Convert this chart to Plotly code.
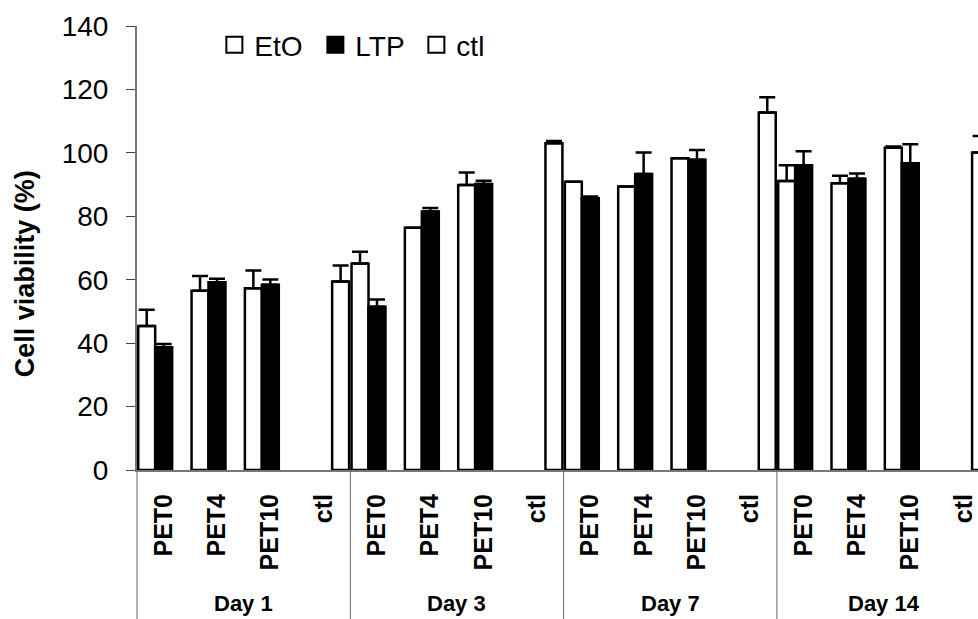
import plotly.graph_objects as go

# Cell viability of PET films (EtO vs LTP sterilisation) with controls, per day
days = ["Day 1", "Day 3", "Day 7", "Day 14"]
samples = ["PET0", "PET4", "PET10", "ctl"]

# mean viability (%) per day for PET0, PET4, PET10
eto_mean = [[45.4, 56.5, 57.3], [65.1, 76.4, 89.9], [90.9, 89.4, 98.3], [91.1, 90.4, 101.6]]
ltp_mean = [[38.7, 59.2, 58.4], [51.5, 81.5, 90.2], [85.7, 93.3, 97.8], [96.1, 91.8, 96.7]]
ctl_mean = [59.4, 103.0, 112.7, 100.1]

# upper standard deviation (None = not shown)
eto_err = [[5.1, 4.7, 5.6], [3.7, None, 3.9], [None, None, None], [5.0, 2.4, 0.4]]
ltp_err = [[1.0, 1.1, 1.7], [2.3, 1.1, 1.0], [0.5, 6.8, 3.1], [4.4, 1.7, 6.0]]
ctl_err = [5.1, 0.7, 4.8, 5.2]

# one category per (day, sample); ctl bars sit in the third slot of each group
keys, labels = [], []
eto_y, ltp_y, ctl_y = [], [], []
eto_e, ltp_e, ctl_e = [], [], []
for d, day in enumerate(days):
    for s, smp in enumerate(samples):
        keys.append(f"{day} {smp}")
        labels.append(smp)
        if smp == "ctl":
            eto_y.append(None); ltp_y.append(None); ctl_y.append(ctl_mean[d])
            eto_e.append(None); ltp_e.append(None); ctl_e.append(ctl_err[d])
        else:
            eto_y.append(eto_mean[d][s]); ltp_y.append(ltp_mean[d][s]); ctl_y.append(None)
            eto_e.append(eto_err[d][s]); ltp_e.append(ltp_err[d][s]); ctl_e.append(None)

FONT = "Liberation Sans, Arial, sans-serif"


def err(vals):
    # upper error bars only
    return dict(type="data", symmetric=False, array=vals,
                arrayminus=[0 if v is not None else None for v in vals],
                color="black", thickness=2.5, width=8)


series = [("EtO", eto_y, eto_e, "white"), ("LTP", ltp_y, ltp_e, "black"), ("ctl", ctl_y, ctl_e, "white")]

fig = go.Figure()
for name, ys, es, fill in series:
    fig.add_trace(go.Bar(name=name, x=keys, y=ys, error_y=err(es), legendgroup=name,
                         showlegend=False,
                         marker=dict(color=fill, line=dict(color="black", width=2.5))))
# legend entries with larger square swatches
for name, ys, es, fill in series:
    fig.add_trace(go.Scatter(name=name, x=[None], y=[None], mode="markers", legendgroup=name,
                             marker=dict(symbol="square", size=16, color=fill,
                                         line=dict(color="black", width=2))))

# vertical separators between day groups, running down through the labels
shapes = [dict(type="line", xref="paper", yref="paper", x0=0, x1=0, y0=0, y1=-0.34,
               line=dict(color="#666", width=1))]
for d in range(1, len(days)):
    xv = d * len(samples) - 0.5
    shapes.append(dict(type="line", xref="x", yref="paper", x0=xv, x1=xv, y0=0, y1=-0.34,
                       line=dict(color="#666", width=1)))

annotations = []
for d, day in enumerate(days):
    annotations.append(dict(text=f"<b>{day}</b>", xref="x", yref="paper",
                            x=d * len(samples) + 1.5, y=-0.30, showarrow=False,
                            xanchor="center", yanchor="middle",
                            font=dict(family=FONT, size=22, color="black")))
annotations.append(dict(text="<b>Cell viability (%)</b>", xref="paper", yref="paper",
                        x=-0.133, y=0.441, textangle=-90, showarrow=False,
                        xanchor="center", yanchor="middle",
                        font=dict(family=FONT, size=27, color="black")))

fig.update_layout(
    width=978, height=619,
    margin=dict(l=137, r=0, t=26, b=149),
    paper_bgcolor="white", plot_bgcolor="white",
    barmode="group", bargap=0.046, bargroupgap=0,
    font=dict(family=FONT, color="black"),
    showlegend=True,
    legend=dict(orientation="h", x=0.092, xanchor="left", y=0.957, yanchor="middle",
                font=dict(family=FONT, size=28, color="black"), itemsizing="trace",
                bgcolor="rgba(0,0,0,0)", entrywidth=56, entrywidthmode="pixels",
                traceorder="normal"),
    shapes=shapes,
    annotations=annotations,
    xaxis=dict(type="category", categoryorder="array", categoryarray=keys,
               tickmode="array", tickvals=keys, ticktext=labels,
               tickangle=-90, ticks="", ticklabelstandoff=12,
               tickfont=dict(family=FONT, size=25, color="black", weight="bold"),
               range=[-0.5, 15.27], showline=True, linecolor="#777", linewidth=2,
               showgrid=False, zeroline=False),
    yaxis=dict(range=[0, 140], dtick=20, ticks="outside", ticklen=9, tickwidth=1,
               tickcolor="#444", ticklabelstandoff=12,
               tickfont=dict(family=FONT, size=28, color="black"),
               showline=True, linecolor="#777", linewidth=2,
               showgrid=False, zeroline=False),
)

fig.write_html("out.html")
